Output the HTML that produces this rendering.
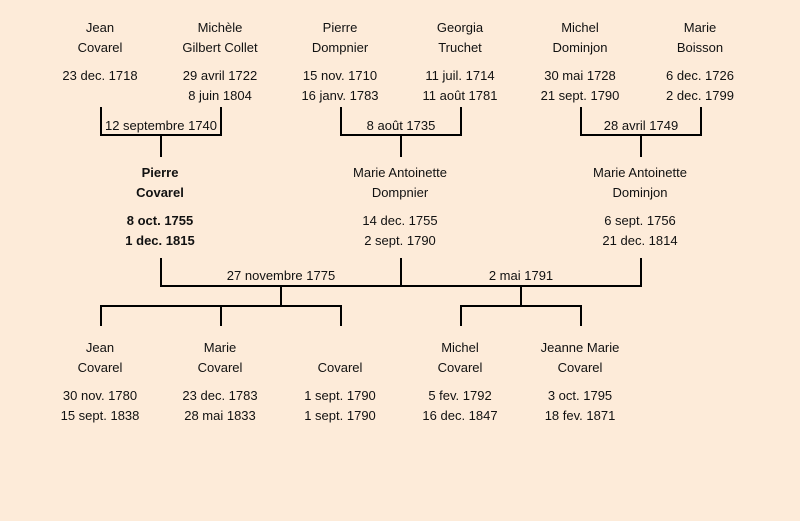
<!DOCTYPE html>
<html><head><meta charset="utf-8"><style>
html,body{margin:0;padding:0;background:#fdebd9;}
svg{display:block;}
text{font-family:"Liberation Sans",sans-serif;font-size:13px;fill:#111;text-anchor:middle;}
.b{font-weight:bold;}
line{stroke:#000;stroke-width:2;}
</style></head><body>
<svg width="800" height="521" viewBox="0 0 800 521" xmlns="http://www.w3.org/2000/svg">
<rect width="800" height="521" fill="#fdebd9"/>
<!-- row 1 -->
<g>
<text x="100" y="32">Jean</text><text x="100" y="52">Covarel</text><text x="100" y="80">23 dec. 1718</text>
<text x="220" y="32">Michèle</text><text x="220" y="52">Gilbert Collet</text><text x="220" y="80">29 avril 1722</text><text x="220" y="100">8 juin 1804</text>
<text x="340" y="32">Pierre</text><text x="340" y="52">Dompnier</text><text x="340" y="80">15 nov. 1710</text><text x="340" y="100">16 janv. 1783</text>
<text x="460" y="32">Georgia</text><text x="460" y="52">Truchet</text><text x="460" y="80">11 juil. 1714</text><text x="460" y="100">11 août 1781</text>
<text x="580" y="32">Michel</text><text x="580" y="52">Dominjon</text><text x="580" y="80">30 mai 1728</text><text x="580" y="100">21 sept. 1790</text>
<text x="700" y="32">Marie</text><text x="700" y="52">Boisson</text><text x="700" y="80">6 dec. 1726</text><text x="700" y="100">2 dec. 1799</text>
</g>
<!-- marriages row 1 -->
<line x1="101" y1="107" x2="101" y2="136"/><line x1="221" y1="107" x2="221" y2="136"/><line x1="100" y1="135" x2="222" y2="135"/><line x1="161" y1="135" x2="161" y2="157"/>
<text x="161" y="130">12 septembre 1740</text>
<line x1="341" y1="107" x2="341" y2="136"/><line x1="461" y1="107" x2="461" y2="136"/><line x1="340" y1="135" x2="462" y2="135"/><line x1="401" y1="135" x2="401" y2="157"/>
<text x="401" y="130">8 août 1735</text>
<line x1="581" y1="107" x2="581" y2="136"/><line x1="701" y1="107" x2="701" y2="136"/><line x1="580" y1="135" x2="702" y2="135"/><line x1="641" y1="135" x2="641" y2="157"/>
<text x="641" y="130">28 avril 1749</text>
<!-- row 2 -->
<text class="b" x="160" y="177">Pierre</text><text class="b" x="160" y="197">Covarel</text><text class="b" x="160" y="225">8 oct. 1755</text><text class="b" x="160" y="245">1 dec. 1815</text>
<text x="400" y="177">Marie Antoinette</text><text x="400" y="197">Dompnier</text><text x="400" y="225">14 dec. 1755</text><text x="400" y="245">2 sept. 1790</text>
<text x="640" y="177">Marie Antoinette</text><text x="640" y="197">Dominjon</text><text x="640" y="225">6 sept. 1756</text><text x="640" y="245">21 dec. 1814</text>
<!-- marriages row 2 -->
<line x1="161" y1="258" x2="161" y2="287"/><line x1="401" y1="258" x2="401" y2="287"/><line x1="641" y1="258" x2="641" y2="287"/>
<line x1="160" y1="286" x2="642" y2="286"/>
<text x="281" y="280">27 novembre 1775</text><text x="521" y="280">2 mai 1791</text>
<line x1="281" y1="286" x2="281" y2="306"/><line x1="521" y1="286" x2="521" y2="306"/>
<line x1="100" y1="306" x2="342" y2="306"/><line x1="460" y1="306" x2="582" y2="306"/>
<line x1="101" y1="306" x2="101" y2="326"/><line x1="221" y1="306" x2="221" y2="326"/><line x1="341" y1="306" x2="341" y2="326"/>
<line x1="461" y1="306" x2="461" y2="326"/><line x1="581" y1="306" x2="581" y2="326"/>
<!-- row 3 -->
<text x="100" y="352">Jean</text><text x="100" y="372">Covarel</text><text x="100" y="400">30 nov. 1780</text><text x="100" y="420">15 sept. 1838</text>
<text x="220" y="352">Marie</text><text x="220" y="372">Covarel</text><text x="220" y="400">23 dec. 1783</text><text x="220" y="420">28 mai 1833</text>
<text x="340" y="372">Covarel</text><text x="340" y="400">1 sept. 1790</text><text x="340" y="420">1 sept. 1790</text>
<text x="460" y="352">Michel</text><text x="460" y="372">Covarel</text><text x="460" y="400">5 fev. 1792</text><text x="460" y="420">16 dec. 1847</text>
<text x="580" y="352">Jeanne Marie</text><text x="580" y="372">Covarel</text><text x="580" y="400">3 oct. 1795</text><text x="580" y="420">18 fev. 1871</text>
</svg>
</body></html>
